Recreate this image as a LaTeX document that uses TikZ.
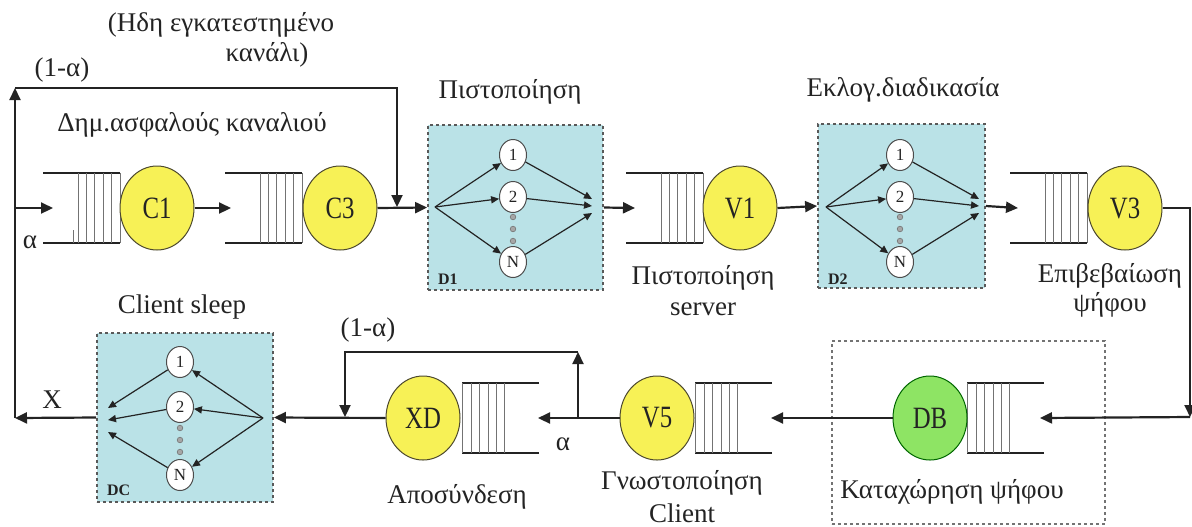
\documentclass[tikz,border=0pt]{standalone}
\usepackage{fontspec}
\setmainfont{Liberation Serif}
\newfontfamily\labelfont{Liberation Serif}
\usetikzlibrary{arrows.meta,shapes.geometric}
\definecolor{srvyellow}{RGB}{247,241,86}
\definecolor{srvgreen}{RGB}{142,228,100}
\definecolor{boxblue}{RGB}{186,226,231}
\definecolor{inkgray}{RGB}{35,35,35}
% narrow, tall lettering inside the service ellipses
\newcommand\srvname[1]{\scalebox{0.8}[1]{#1}}
\begin{document}
\begin{tikzpicture}[x=0.5pt,y=-0.5pt,
  font=\labelfont\fontsize{13.5}{15}\selectfont, text=inkgray,
  mainline/.style={line width=1.1pt, draw=inkgray},
  arr/.style={mainline, -{Triangle[length=6pt,width=5.5pt]}},
  qline/.style={line width=0.8pt, draw=inkgray},
  qbar/.style={line width=0.5pt, draw=black!55},
  server/.style={ellipse, draw=black!60!olive, line width=0.5pt, fill=srvyellow,
    minimum width=37pt, minimum height=42pt, inner sep=0pt,
    font=\labelfont\fontsize{15.5}{15.5}\selectfont},
  fanbox/.style={rectangle, fill=boxblue, draw=black!65, line width=0.9pt,
    dash pattern=on 1.6pt off 1.4pt, inner sep=0pt},
  dbbox/.style={rectangle, draw=black!55, line width=1pt,
    dash pattern=on 1.3pt off 1.7pt, inner sep=0pt},
  unit/.style={ellipse, fill=white, draw=black!70, line width=0.5pt,
    minimum width=13.5pt, minimum height=15.5pt, inner sep=0pt,
    font=\labelfont\fontsize{8.5}{8.5}\selectfont},
  inarr/.style={line width=0.6pt, draw=inkgray, -{Triangle[length=4pt,width=3.6pt]}},
  fandot/.style={circle, fill=black!35, draw=black!55, line width=0.3pt, minimum size=2.8pt, inner sep=0pt},
  boxlabel/.style={anchor=west, font=\labelfont\fontsize{8}{8}\selectfont\bfseries},
  lbl/.style={inner sep=0pt},
  queue/.pic={
    \draw[qline] (-77,-35) -- (0,-35) (-77,35) -- (0,35);
    \foreach \qx in {-42,-34,-26,-17,-9,0} \draw[qbar] (\qx,-35) -- (\qx,35);
  }
]
\useasboundingbox (0,0) rectangle (1192,526);

% ---------- background boxes ----------
\node[fanbox, minimum width=87.5pt, minimum height=82.5pt] (D1) at (515.5,207.5) {};
\node[fanbox, minimum width=83.5pt, minimum height=82pt] (D2) at (901.5,206) {};
\node[fanbox, minimum width=88pt, minimum height=84.5pt] (DC) at (185,417.5) {};
\node[dbbox, minimum width=136.5pt, minimum height=91.5pt] (DBbox) at (968.5,432.5) {};
\node[boxlabel] (D1l) at (431,279) {D1};
\node[boxlabel] (D2l) at (821,279) {D2};
\node[boxlabel] (DCl) at (100,490) {DC};

% ---------- queues ----------
\pic at (120,208) {queue};
\pic at (302,208) {queue};
\pic at (703,208) {queue};
\pic at (1087,208) {queue};
\pic[xscale=-1] at (967,418) {queue};
\pic[xscale=-1] at (695,418) {queue};
\pic[xscale=-1] at (462,418) {queue};
\draw[qbar] (73,230) -- (73,243);

% ---------- servers ----------
\node[server] (C1) at (157,208) {\srvname{C1}};
\node[server] (C3) at (340,208) {\srvname{C3}};
\node[server] (V1) at (740,208) {\srvname{V1}};
\node[server] (V3) at (1125,208) {\srvname{V3}};
\node[server, fill=srvgreen, draw=black!60!green] (DB) at (930,418) {\srvname{DB}};
\node[server] (V5) at (657,418) {\srvname{V5}};
\node[server] (XD) at (423,418) {\srvname{XD}};

% ---------- routing points ----------
\coordinate (lbot) at (15,418);
\coordinate (ltop) at (15,88);
\coordinate (lin) at (15,208);
\coordinate (qC1) at (53,208);
\coordinate (qC3) at (231,208);
\coordinate (join) at (397,207);
\coordinate (qV1) at (635,208);
\coordinate (qV3) at (1018,208);
\coordinate (rdown) at (1190,417);
\coordinate (qDB) at (1040,418);
\coordinate (qV5) at (771,418);
\coordinate (qXD) at (538,418);
\coordinate (split) at (578,418);
\coordinate (loopup) at (578,352);
\coordinate (merge) at (345,417);

% ---------- main flow ----------
\draw[arr] (lbot) -- (ltop);
\draw[arr] (ltop) -| (join);
\draw[arr] (lin) -- (qC1);
\draw[arr] (C1.east) -- (qC3);
\draw[arr] (C3.east) -- (D1.west);
\draw[arr] (D1.east) -- (qV1);
\draw[arr] (V1.east) -- (D2.west);
\draw[arr] (D2.east) -- (qV3);
\draw[arr] (V3.east) -| (rdown);
\draw[arr] (rdown) -- (qDB);
\draw[arr] (DB.west) -- (qV5);
\draw[arr] (V5.west) -- (qXD);
\draw[arr] (split) -- (loopup);
\draw[arr] (loopup) -| (merge);
\draw[arr] (XD.west) -- (DC.east);
\draw[arr] (DC.west) -- (lbot);

% ---------- D1 fan ----------
\node[unit] (a1) at (513,155) {1};
\node[unit] (a2) at (513,197) {2};
\node[unit] (aN) at (513,262) {N};
\coordinate (as) at (435,207);
\coordinate (at1) at (592,199);
\coordinate (at2) at (592,206);
\coordinate (at3) at (592,213);
\foreach \u in {a1,a2,aN} \draw[inarr] (as) -- (\u);
\draw[inarr] (a1) -- (at1);
\draw[inarr] (a2) -- (at2);
\draw[inarr] (aN) -- (at3);
\foreach \dy in {217,229,241} \node[fandot] at (513,\dy) {};

% ---------- D2 fan ----------
\node[unit] (b1) at (900,155) {1};
\node[unit] (b2) at (900,197) {2};
\node[unit] (bN) at (900,262) {N};
\coordinate (bs) at (826,207);
\coordinate (bt1) at (979,199);
\coordinate (bt2) at (979,206);
\coordinate (bt3) at (979,213);
\foreach \u in {b1,b2,bN} \draw[inarr] (bs) -- (\u);
\draw[inarr] (b1) -- (bt1);
\draw[inarr] (b2) -- (bt2);
\draw[inarr] (bN) -- (bt3);
\foreach \dy in {217,229,241} \node[fandot] at (900,\dy) {};

% ---------- DC fan (right to left) ----------
\node[unit] (c1) at (180,362) {1};
\node[unit] (c2) at (180,407) {2};
\node[unit] (cN) at (180,475) {N};
\coordinate (cs) at (263,418);
\coordinate (ct1) at (108,408);
\coordinate (ct2) at (108,420);
\coordinate (ct3) at (108,432);
\foreach \u in {c1,c2,cN} \draw[inarr] (cs) -- (\u);
\draw[inarr] (c1) -- (ct1);
\draw[inarr] (c2) -- (ct2);
\draw[inarr] (cN) -- (ct3);
\foreach \dy in {428,440,452} \node[fandot] at (180,\dy) {};

% ---------- labels ----------
\node[lbl] (t1) at (221,25) {(Ηδη εγκατεστημένο};
\node[lbl] (t2) at (267,55) {κανάλι)};
\node[lbl] (t3) at (62,70) {(1-α)};
\node[lbl] (t4) at (192,125) {Δημ.ασφαλούς καναλιού};
\node[lbl] (t5) at (30,242) {α};
\node[lbl] (t6) at (510,92) {Πιστοποίηση};
\node[lbl] (t7) at (903,90) {Εκλογ.διαδικασία};
\node[lbl] (t8) at (703,278) {Πιστοποίηση};
\node[lbl] (t9) at (703,309) {server};
\node[lbl] (t10) at (1110,276) {Επιβεβαίωση};
\node[lbl] (t11) at (1110,305) {ψήφου};
\node[lbl] (t12) at (182,307) {Client sleep};
\node[lbl] (t13) at (368,330) {(1-α)};
\node[lbl] (t14) at (52,400) {X};
\node[lbl] (t15) at (563,444) {α};
\node[lbl] (t16) at (457,497) {Αποσύνδεση};
\node[lbl] (t17) at (682,483) {Γνωστοποίηση};
\node[lbl] (t18) at (682,513) {Client};
\node[lbl] (t19) at (952,492) {Καταχώρηση ψήφου};
\end{tikzpicture}
\end{document}
